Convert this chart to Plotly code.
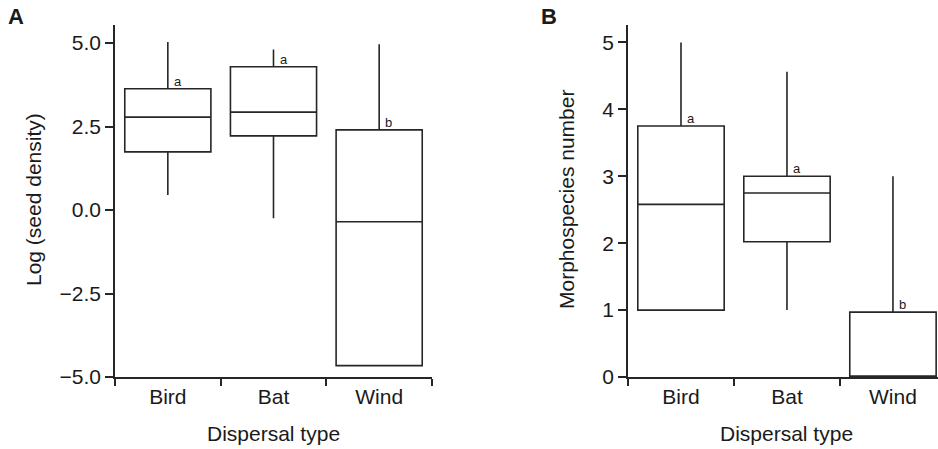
import plotly.graph_objects as go

categories = ["Bird", "Bat", "Wind"]

# Panel A: Log (seed density)
a_lower = [0.45, -0.25, -4.66]
a_q1 = [1.74, 2.22, -4.66]
a_median = [2.78, 2.93, -0.35]
a_q3 = [3.63, 4.29, 2.40]
a_upper = [5.03, 4.81, 4.96]
a_letters = ["a", "a", "b"]
a_tickvals = [-5.0, -2.5, 0.0, 2.5, 5.0]
a_ticktext = ["\u22125.0", "\u22122.5", "0.0", "2.5", "5.0"]

# Panel B: Morphospecies number
b_lower = [1.0, 1.0, 0.0]
b_q1 = [1.0, 2.02, 0.0]
b_median = [2.58, 2.75, 0.0]
b_q3 = [3.75, 3.0, 0.97]
b_upper = [5.0, 4.56, 3.0]
b_letters = ["a", "a", "b"]
b_tickvals = [0, 1, 2, 3, 4, 5]
b_ticktext = ["0", "1", "2", "3", "4", "5"]

FONT = "Liberation Sans, Arial, Helvetica, sans-serif"
LC = "#262626"
TC = "#1a1a1a"
W, H = 938, 449
FS = 21

fig = go.Figure()
fig.add_trace(go.Box(
    x=categories, q1=a_q1, median=a_median, q3=a_q3,
    lowerfence=a_lower, upperfence=a_upper,
    xaxis="x", yaxis="y", width=0.815, whiskerwidth=0,
    line=dict(color=LC, width=1.6), fillcolor="rgba(0,0,0,0)",
    boxpoints=False, showlegend=False, hoverinfo="skip"))
fig.add_trace(go.Box(
    x=categories, q1=b_q1, median=b_median, q3=b_q3,
    lowerfence=b_lower, upperfence=b_upper,
    xaxis="x2", yaxis="y2", width=0.815, whiskerwidth=0,
    line=dict(color=LC, width=1.6), fillcolor="rgba(0,0,0,0)",
    boxpoints=False, showlegend=False, hoverinfo="skip"))

ydom = [1 - 377 / H, 1 - 25 / H]
axis_common = dict(showline=True, linecolor=LC, linewidth=1.6, ticks="outside",
                   tickcolor=LC, tickwidth=1.6, showgrid=False, zeroline=False,
                   automargin=False,
                   tickfont=dict(family=FONT, size=FS, color=TC))

fig.update_layout(
    template="none",
    width=W, height=H, margin=dict(l=0, r=0, t=0, b=0, pad=0),
    paper_bgcolor="white", plot_bgcolor="white",
    font=dict(family=FONT, color=TC),
    xaxis=dict(domain=[115 / W, 432 / W], range=[-0.5, 2.5], type="category",
               categoryorder="array", categoryarray=categories,
               tickson="boundaries", ticklen=7, anchor="y", **axis_common),
    yaxis=dict(domain=ydom, range=[-5, 5.54], tickvals=a_tickvals, ticktext=a_ticktext,
               ticklen=8, anchor="x", **axis_common),
    xaxis2=dict(domain=[628 / W, 1.0], range=[-0.5, 2.425], type="category",
                categoryorder="array", categoryarray=categories,
                tickson="boundaries", ticklen=7, anchor="y2", **axis_common),
    yaxis2=dict(domain=ydom, range=[0, 5.26], tickvals=b_tickvals, ticktext=b_ticktext,
                ticklen=8, anchor="x2", **axis_common),
)

ann = []
for cat, q3, lt in zip(categories, a_q3, a_letters):
    ann.append(dict(x=cat, y=q3, xref="x", yref="y", text=lt, showarrow=False,
                    xanchor="left", yanchor="bottom", xshift=4, yshift=-2,
                    font=dict(family=FONT, size=13, color=TC)))
for cat, q3, lt in zip(categories, b_q3, b_letters):
    ann.append(dict(x=cat, y=q3, xref="x2", yref="y2", text=lt, showarrow=False,
                    xanchor="left", yanchor="bottom", xshift=4, yshift=-2,
                    font=dict(family=FONT, size=13, color=TC)))

# panel letters
ann.append(dict(x=6 / W, y=1 - 17 / H, xref="paper", yref="paper", text="<b>A</b>",
                showarrow=False, xanchor="left", yanchor="middle",
                font=dict(family=FONT, size=22, color=TC)))
ann.append(dict(x=539 / W, y=1 - 17 / H, xref="paper", yref="paper", text="<b>B</b>",
                showarrow=False, xanchor="left", yanchor="middle",
                font=dict(family=FONT, size=22, color=TC)))
# axis titles
ann.append(dict(x=33 / W, y=1 - 200 / H, xref="paper", yref="paper", text="Log (seed density)",
                textangle=-90, showarrow=False, xanchor="center", yanchor="middle",
                font=dict(family=FONT, size=FS, color=TC)))
ann.append(dict(x=566 / W, y=1 - 200 / H, xref="paper", yref="paper", text="Morphospecies number",
                textangle=-90, showarrow=False, xanchor="center", yanchor="middle",
                font=dict(family=FONT, size=FS, color=TC)))
ann.append(dict(x="Bat", y=1 - 433 / H, xref="x", yref="paper", text="Dispersal type",
                showarrow=False, xanchor="center", yanchor="middle",
                font=dict(family=FONT, size=FS, color=TC)))
ann.append(dict(x="Bat", y=1 - 433 / H, xref="x2", yref="paper", text="Dispersal type",
                showarrow=False, xanchor="center", yanchor="middle",
                font=dict(family=FONT, size=FS, color=TC)))
fig.update_layout(annotations=ann)

fig.write_html("out.html")
